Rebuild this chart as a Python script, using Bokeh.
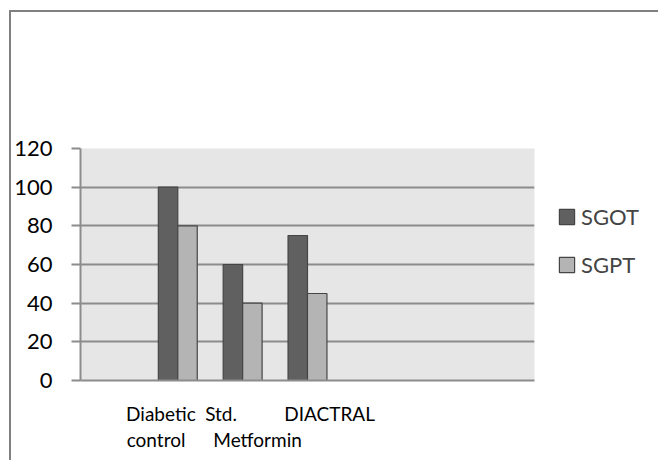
from bokeh.plotting import figure
from bokeh.models import (ColumnDataSource, Range1d, Legend, LegendItem,
                          SingleIntervalTicker, FixedTicker)
from bokeh.embed import file_html
from bokeh.resources import INLINE

# ---- data ----
categories = ["Diabetic control", "Std. Metformin", "DIACTRAL"]
NB = "\u00a0"
# category labels as wrapped in the original (padding keeps the lines left-aligned)
label_texts = ["Diabetic\ncontrol" + NB * 2, "Std." + NB * 15 + "\nMetformin", "DIACTRAL"]
sgot = [100, 60, 75]
sgpt = [80, 40, 45]
series_names = ["SGOT", "SGPT"]

# the category axis has 7 slots: one empty before the data, three empty after
N_SLOTS = 7
FIRST_SLOT = 1
UNIT = 100  # axis units per category slot

# style: horizontal shift (px) of each category label's centre from its slot centre
label_shift_px = [-17, 15, 22]

FONT = "Lato"
DARK = "#606060"
LIGHT = "#b4b4b4"
EDGE = "#454545"
GRID = "#8c8c8c"

FRAME_W, FRAME_H = 454, 232
LEFT, TOP = 69, 136

centres = [(FIRST_SLOT + i + 0.5) * UNIT for i in range(len(categories))]
bw = 0.3 * UNIT
src = ColumnDataSource(dict(cat=categories, xc=centres,
                            x1=[c - bw / 2 for c in centres],
                            x2=[c + bw / 2 for c in centres],
                            sgot=sgot, sgpt=sgpt))

p = figure(x_range=Range1d(0, N_SLOTS * UNIT), y_range=Range1d(0, 120),
           frame_width=FRAME_W, frame_height=FRAME_H,
           output_backend="svg", toolbar_location=None,
           min_border_left=LEFT, min_border_right=110, min_border_top=TOP,
           min_border_bottom=80)
p.styles = {"margin-left": "9px", "margin-top": "10px",
            "border-left": "2px solid #808080", "border-top": "2px solid #808080"}
p.background_fill_color = "#e6e6e6"
p.border_fill_color = "white"
p.outline_line_color = None

r1 = p.vbar(x="x1", top="sgot", width=bw, source=src,
            fill_color=DARK, line_color=EDGE, line_width=1.2)
r2 = p.vbar(x="x2", top="sgpt", width=bw, source=src,
            fill_color=LIGHT, line_color=EDGE, line_width=1.2)

# grid
p.xgrid.grid_line_color = None
p.ygrid.grid_line_color = GRID
p.ygrid.grid_line_width = 2
p.yaxis.ticker = SingleIntervalTicker(interval=20)

# y axis
p.yaxis.axis_line_color = GRID
p.yaxis.axis_line_width = 2
p.yaxis.major_tick_line_color = GRID
p.yaxis.major_tick_line_width = 2
p.yaxis.major_tick_out = 9
p.yaxis.major_tick_in = 0
p.yaxis.minor_tick_line_color = None
p.yaxis.major_label_standoff = 19
p.yaxis.major_label_text_font = FONT
p.yaxis.major_label_text_font_size = "22px"
p.yaxis.major_label_text_color = "black"

# x axis: category names near each group
px_per_unit = FRAME_W / (N_SLOTS * UNIT)
ticks, overrides = [], {}
for c, txt, sh in zip(centres, label_texts, label_shift_px):
    t = int(round(c + sh / px_per_unit))
    ticks.append(t)
    overrides[t] = txt
p.xaxis.ticker = FixedTicker(ticks=ticks)
p.xaxis.major_label_overrides = overrides
p.xaxis.axis_line_color = GRID
p.xaxis.axis_line_width = 2
p.xaxis.major_tick_line_color = None
p.xaxis.major_tick_out = 0
p.xaxis.major_tick_in = 0
p.xaxis.minor_tick_line_color = None
p.xaxis.major_label_standoff = 21
p.xaxis.major_label_text_font = FONT
p.xaxis.major_label_text_font_size = "19px"
p.xaxis.major_label_text_color = "black"
p.xaxis.major_label_text_line_height = 1.14

legend = Legend(items=[LegendItem(label=series_names[0], renderers=[r1]),
                       LegendItem(label=series_names[1], renderers=[r2])],
                location="top_left", orientation="vertical",
                border_line_color=None, background_fill_alpha=0,
                padding=0, margin=23, spacing=21,
                title=" ", title_text_font_size="20px", title_standoff=9,
                glyph_width=19, glyph_height=19, label_height=26,
                label_standoff=5,
                label_text_font=FONT, label_text_font_size="22px",
                label_text_baseline="middle")
p.add_layout(legend, "right")

open("out.html", "w").write(file_html(p, INLINE))
